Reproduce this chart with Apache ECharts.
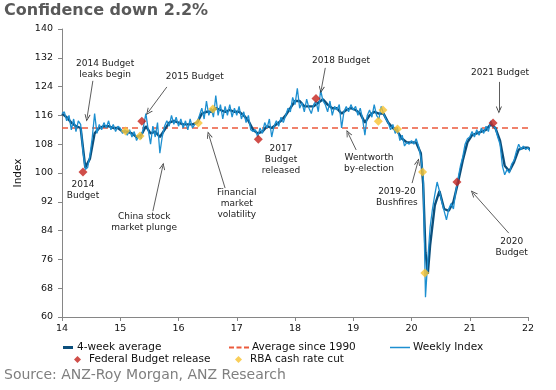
<!DOCTYPE html>
<html><head><meta charset="utf-8">
<script src="https://cdn.jsdelivr.net/npm/echarts@6/dist/echarts.min.js"></script>
<style>html,body{margin:0;padding:0;background:#fff}#c{width:556px;height:390px}</style>
</head><body><div id="c"></div>
<script>
// ---------- data ----------
const titleText = 'Confidence down 2.2%';
const sourceText = 'Source: ANZ-Roy Morgan, ANZ Research';
const yAxisName = 'Index';
const xMin = 14, xMax = 22, xStep = 1;
const yMin = 60, yMax = 140, yStep = 8;

// Weekly index, fortnightly readings from 2014.00 (year offset 14) at 0.04-year spacing
const weeklyStart = 14.0;
const weeklyStep = 0.04;
const weeklyValues = [
  // 2014
  116.5,117,114.5,116,112,115,111.5,114.5,113.5,106,101,101.5,105,110,116.5,111,113.5,112,114,112.5,114.5,112,113.5,111.5,113,
  // 2015
  112.5,111,112,110.5,112,110,111.5,109,110.5,109.5,113,116.5,112,108,113,110,114,105.5,110,113,114.5,113,116,113.5,115.5,
  // 2016
  113,115,112.5,114.5,112,115,112.5,113.5,114,116,118,115,120,116,118,115.5,121.5,116,119,115,118.5,116,119,115.5,118,
  // 2017
  116,118.5,115,117,114,116,112,111.5,112,110,112.5,111,114,112.5,115,110,113,114.5,113,115.5,114,116,118,117,121,
  // 2018
  119,123.5,118,119.5,117,120.5,118,116.5,119,120,117,123,120,119,117,120,116,118.5,117.5,119,112.5,117,118.5,117,119,
  // 2019
  117.5,118.5,116,118,115,110.5,116,117.5,115.5,119,116,115,118.5,116.5,115,114,112,113.5,111,112.5,109,110.5,107.5,108.5,108,
  // 2020
  109,108,109.5,107.5,104.5,99.5,65.5,76,85,90,94,97.5,95,92,89.5,87,90,91.5,90,95,98.5,102,104.5,108,109.5,
  // 2021
  110,111.5,110,112,110.5,112.5,111,113,111.5,114.5,113,112.5,110,108,102,99.5,101,100,102.5,103.5,106,108,106.5,107.5,106.5,
  // 2022
  107,106
];

const avgDates = [14.00,14.08,14.16,14.24,14.32,14.40,14.48,14.56,14.64,14.72,14.80,14.88,14.96,
  15.04,15.12,15.20,15.28,15.36,15.44,15.52,15.60,15.68,15.76,15.84,15.92,
  16.00,16.08,16.16,16.24,16.32,16.40,16.48,16.56,16.64,16.72,16.80,16.88,16.96,
  17.04,17.12,17.20,17.28,17.36,17.44,17.52,17.60,17.68,17.76,17.84,17.92,
  18.00,18.08,18.16,18.24,18.32,18.40,18.48,18.56,18.64,18.72,18.80,18.88,18.96,
  19.04,19.12,19.20,19.28,19.36,19.44,19.52,19.60,19.68,19.76,19.84,19.92,
  20.00,20.08,20.16,20.20,20.24,20.28,20.32,20.40,20.48,20.56,20.64,20.72,20.80,20.88,20.96,
  21.04,21.12,21.20,21.28,21.36,21.44,21.52,21.60,21.68,21.76,21.84,21.92,22.00,22.04];
const avgValues = [116.5,115.5,114,113,112.5,101.5,104,111,112.5,113,113,112.5,112.5,
  111.5,111.5,111,110,110.5,113,111,111.5,110,112,114,114.5,
  114,113.5,113.5,113.5,114,116.5,117,117,118,117.5,117,117.5,117,
  117,116,114.5,112,111,111.5,113,112.5,113.5,114.5,116,118,
  120,120,118.5,118.5,118.5,119.5,120.5,119,118,118,116.5,117.5,118,
  117.5,116.5,114,116,117,116.5,116.5,114,112.5,111.5,109.5,108.5,
  108.5,108.5,105.5,97,78,72,80,91,95,90,89.5,92,97.5,103.5,108.5,
  110.5,111,111.5,112,113.5,112.5,109,102,100.5,103,106.5,107,107,106.5];

const longRunAverage = 112.5;
const longRunRange = [14.0, 22.04];

const budgetDates = [14.36, 15.37, 17.37, 18.36, 20.78, 21.40];
const budgetValues = [100.3, 114.4, 109.4, 120.7, 97.5, 113.9];
const rbaDates = [15.09, 15.34, 16.34, 16.59, 19.43, 19.51, 19.76, 20.19, 20.23];
const rbaValues = [111.7, 110.3, 113.9, 117.8, 114.4, 117.5, 112.2, 100.3, 72.2];

// annotations: label text anchored in data coords, arrow from -> to in data coords
const annTexts = ['2014 Budget\nleaks begin','2014\nBudget','2015 Budget','China stock\nmarket plunge',
  'Financial\nmarket\nvolatility','2017\nBudget\nreleased','2018 Budget','Wentworth\nby-election',
  '2019-20\nBushfires','2020\nBudget','2021 Budget'];
const annAt = [[14.74,128.9],[14.36,95.3],[16.28,126.9],[15.41,86.4],[17.0,91.4],[17.76,103.6],
  [18.79,131.1],[19.27,102.8],[19.75,93.3],[21.72,79.4],[21.52,127.8]];
const arrowFrom = [[14.53,125.6],null,[15.80,123.9],[15.56,89.4],[16.80,95.8],null,
  [18.52,129.2],[19.05,106.4],[20.01,97.2],[21.67,83.3],[21.50,125.3]];
const arrowTo = [[14.43,115.3],null,[15.48,116.9],[15.73,101.9],[16.52,110.6],null,
  [18.45,123.1],[18.91,111.1],[20.11,103.1],[21.06,94.4],[21.50,117.5]];

// ---------- chart ----------
const FONT = 'DejaVu Sans';
const weeklyData = weeklyValues.map((v, i) => [+(weeklyStart + i * weeklyStep).toFixed(2), v]);
const avgData = avgDates.map((d, i) => [d, avgValues[i]]);
const budgetData = budgetDates.map((d, i) => [d, budgetValues[i]]);
const rbaData = rbaDates.map((d, i) => [d, rbaValues[i]]);

const chevron = 'path://M5,0 L10,10 L8.6,10 L5,2.8 L1.4,10 L0,10 Z';
const arrowLines = [];
arrowFrom.forEach((f, i) => { if (f) arrowLines.push([{coord: f}, {coord: arrowTo[i]}]); });
const labelPoints = annTexts.map((t, i) => ({coord: annAt[i], value: 0, label: {formatter: t}}));

const C_AVG4 = '#0c4f7c', C_WEEK = '#1d8fd0', C_LR = '#ec5a3c', C_BUD = '#c4221c', C_RBA = '#f7c22f';
const legText = {fontFamily: FONT, fontSize: 10.5, color: '#111', padding: [0, 0, 0, -3]};
function leg(left, top, w, h, icon, name, pad) {
  return {left: left, top: top, itemWidth: w, itemHeight: h, icon: icon, padding: 0, itemGap: 0,
    selectedMode: false, data: [name],
    textStyle: Object.assign({}, legText, {padding: [0, 0, 0, pad]})};
}

const chart = echarts.init(document.getElementById('c'), null, {renderer: 'canvas'});
chart.setOption({
  animation: false,
  backgroundColor: '#fff',
  title: {text: titleText, left: 4, top: 3, padding: 0,
    textStyle: {fontFamily: FONT, fontSize: 16, fontWeight: 'bold', color: '#595959'}},
  grid: {left: 62, right: 28, top: 29, bottom: 73},
  xAxis: {type: 'value', min: xMin, max: xMax, interval: xStep,
    axisLine: {lineStyle: {color: '#868686', width: 1}},
    axisTick: {show: true, length: 4, lineStyle: {color: '#868686'}},
    axisLabel: {fontFamily: FONT, fontSize: 9.5, color: '#111', margin: 7},
    splitLine: {show: false}},
  yAxis: {type: 'value', min: yMin, max: yMax, interval: yStep,
    name: yAxisName, nameLocation: 'middle', nameGap: 38, nameRotate: 90,
    nameTextStyle: {fontFamily: FONT, fontSize: 10.5, color: '#111'},
    axisLine: {show: true, lineStyle: {color: '#868686', width: 1}},
    axisTick: {show: true, length: 4, lineStyle: {color: '#868686'}},
    axisLabel: {fontFamily: FONT, fontSize: 9.5, color: '#111', margin: 9},
    splitLine: {show: false}},
  legend: [
    leg(63, 342, 10, 3, 'rect', '4-week average', -1),
    leg(229, 342, 20, 2, 'path://M0,0h5v2h-5z M7.5,0h5v2h-5z M15,0h5v2h-5z', 'Average since 1990', -2),
    leg(390, 342, 20, 1.5, 'rect', 'Weekly Index', -2),
    leg(74, 354, 7, 7, 'diamond', 'Federal Budget release', 3),
    leg(235, 354, 7, 7, 'diamond', 'RBA cash rate cut', 3)
  ],
  graphic: [{type: 'text', left: 4, top: 368, silent: true,
    style: {text: sourceText, font: '14px "DejaVu Sans"', fill: '#7f7f7f'}}],
  series: [
    {name: 'Average since 1990', type: 'line', symbol: 'none', silent: true, z: 1,
      data: [[longRunRange[0], longRunAverage], [longRunRange[1], longRunAverage]],
      itemStyle: {color: C_LR},
      lineStyle: {color: C_LR, width: 1.6, type: [6, 4]},
      markLine: {silent: true, symbol: ['none', chevron], symbolSize: [6, 7], precision: 4,
        lineStyle: {color: '#333', width: 0.8, type: 'solid'}, label: {show: false},
        emphasis: {disabled: true}, data: arrowLines},
      markPoint: {silent: true, symbol: 'rect', symbolSize: 1, itemStyle: {color: 'rgba(0,0,0,0)'},
        label: {show: true, position: 'inside', fontFamily: FONT, fontSize: 9, lineHeight: 11,
          color: '#222', align: 'center'}, emphasis: {disabled: true}, data: labelPoints}},
    {name: '4-week average', type: 'line', symbol: 'none', silent: true, z: 2,
      data: avgData, itemStyle: {color: C_AVG4}, lineStyle: {color: C_AVG4, width: 2.4}},
    {name: 'Weekly Index', type: 'line', symbol: 'none', silent: true, z: 3,
      data: weeklyData, itemStyle: {color: C_WEEK}, lineStyle: {color: C_WEEK, width: 1.3}},
    {name: 'Federal Budget release', type: 'scatter', symbol: 'diamond', symbolSize: 9, z: 5, silent: true,
      data: budgetData, itemStyle: {color: C_BUD}},
    {name: 'RBA cash rate cut', type: 'scatter', symbol: 'diamond', symbolSize: 9, z: 5, silent: true,
      data: rbaData, itemStyle: {color: C_RBA}}
  ]
});
</script></body></html>
